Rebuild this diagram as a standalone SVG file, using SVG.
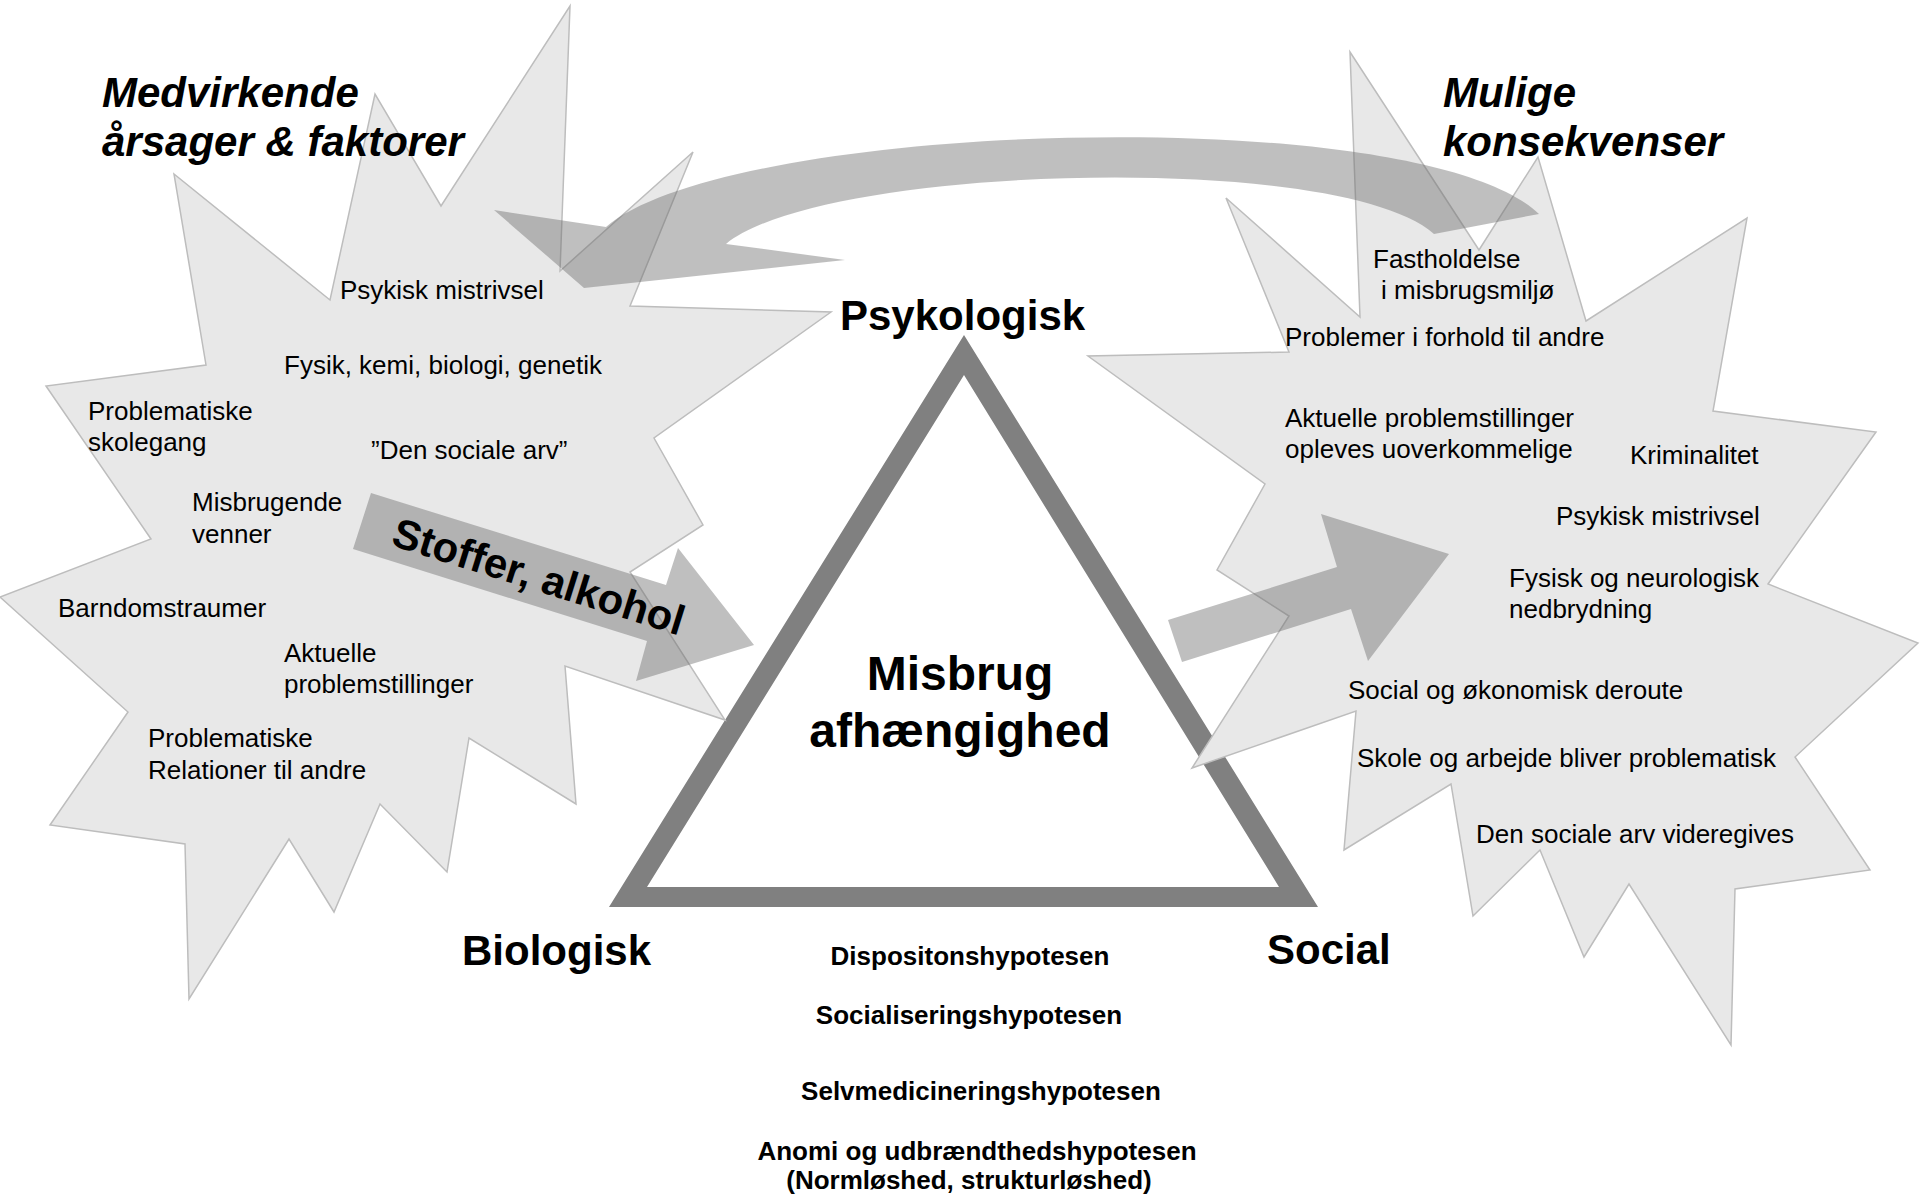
<svg xmlns="http://www.w3.org/2000/svg" width="1920" height="1198" viewBox="0 0 1920 1198">
<style>
.star{fill:#e8e8e8;stroke:#bdbdbd;stroke-width:1.5;stroke-linejoin:miter}
.arrow{fill:#6e6e6e;fill-opacity:0.44;stroke:none}
.t{font-family:"Liberation Sans",Arial,sans-serif;font-size:26px;fill:#000}
.title{font-family:"Liberation Sans",Arial,sans-serif;font-size:42px;font-weight:bold;font-style:italic;fill:#000}
.big{font-family:"Liberation Sans",Arial,sans-serif;font-size:42px;font-weight:bold;fill:#000}
.center{font-family:"Liberation Sans",Arial,sans-serif;font-size:48px;font-weight:bold;fill:#000;text-anchor:middle}
.hyp{font-family:"Liberation Sans",Arial,sans-serif;font-size:26px;font-weight:bold;fill:#000;text-anchor:middle}
</style>
<rect width="1920" height="1198" fill="#fff"/>

<g id="triangle">
<path d="M964,335 L609,907 L1318,907 Z M964,375 L1279,887 L647,887 Z" fill="#808080" fill-rule="evenodd"/>
<text class="center" x="960" y="690">Misbrug</text>
<text class="center" x="960" y="747">afhængighed</text>
</g>

<g id="causes">
<polygon class="star" points="570,6 560,271 693,152 630,306 831,312 654,438 703,525 630,572 725,720 565,666 576,804 469,738 447,872 380,804 334,912 289,839 189,999 185,844 50,825 128,712 0,597 151,539 46,386 206,365 174,174 330,300 375,94 441,206"/>
</g>

<g id="consequences">
<polygon class="star" points="1350,52 1479,250 1538,157 1586,321 1747,218 1713,411 1876,432 1768,584 1918,643 1795,757 1870,870 1735,889 1731,1045 1629,884 1584,957 1540,850 1473,916 1451,784 1344,850 1356,711 1192,768 1289,616 1217,570 1265,484 1088,356 1289,352 1226,198 1360,317"/>
</g>

<g id="connectors">
<path class="arrow" d="M494,210 L584,288 L845,260 L726,244 C820,165 1340,150 1434,234 L1539,214 C1420,100 730,120 606,227 Z"/>
<polygon class="arrow" points="371,493 666,585 678,548 754,645 636,681 647,641 353,549"/>
<polygon class="arrow" points="1168,620 1337,567 1321,514 1449,554 1368,661 1351,609 1182,662"/>
</g>

<g id="causes-text">
<text class="title" x="102" y="107">Medvirkende</text>
<text class="title" x="102" y="156">årsager &amp; faktorer</text>
<text class="t" x="340" y="299">Psykisk mistrivsel</text>
<text class="t" x="284" y="374">Fysik, kemi, biologi, genetik</text>
<text class="t" x="88" y="420">Problematiske</text>
<text class="t" x="88" y="451">skolegang</text>
<text class="t" x="371" y="459">”Den sociale arv”</text>
<text class="t" x="192" y="511">Misbrugende</text>
<text class="t" x="192" y="543">venner</text>
<text class="t" x="58" y="617">Barndomstraumer</text>
<text class="t" x="284" y="662">Aktuelle</text>
<text class="t" x="284" y="693">problemstillinger</text>
<text class="t" x="148" y="747">Problematiske</text>
<text class="t" x="148" y="779">Relationer til andre</text>
</g>

<g id="stoffer-label">
<text class="big" transform="translate(539,576) rotate(17.4)" text-anchor="middle" x="0" y="15">Stoffer, alkohol</text>
</g>

<g id="consequences-text">
<text class="title" x="1443" y="107">Mulige</text>
<text class="title" x="1443" y="156">konsekvenser</text>
<text class="t" x="1373" y="268">Fastholdelse</text>
<text class="t" x="1381" y="299">i misbrugsmiljø</text>
<text class="t" x="1285" y="346">Problemer i forhold til andre</text>
<text class="t" x="1285" y="427">Aktuelle problemstillinger</text>
<text class="t" x="1285" y="458">opleves uoverkommelige</text>
<text class="t" x="1630" y="464">Kriminalitet</text>
<text class="t" x="1556" y="525">Psykisk mistrivsel</text>
<text class="t" x="1509" y="587">Fysisk og neurologisk</text>
<text class="t" x="1509" y="618">nedbrydning</text>
<text class="t" x="1348" y="699">Social og økonomisk deroute</text>
<text class="t" x="1357" y="767">Skole og arbejde bliver problematisk</text>
<text class="t" x="1476" y="843">Den sociale arv videregives</text>
</g>

<g id="labels">
<text class="big" x="840" y="330">Psykologisk</text>
<text class="big" x="462" y="965">Biologisk</text>
<text class="big" x="1267" y="964">Social</text>
</g>

<g id="hypotheses">
<text class="hyp" x="970" y="965">Dispositonshypotesen</text>
<text class="hyp" x="969" y="1024">Socialiseringshypotesen</text>
<text class="hyp" x="981" y="1100">Selvmedicineringshypotesen</text>
<text class="hyp" x="977" y="1160">Anomi og udbrændthedshypotesen</text>
<text class="hyp" x="969" y="1189">(Normløshed, strukturløshed)</text>
</g>
</svg>
